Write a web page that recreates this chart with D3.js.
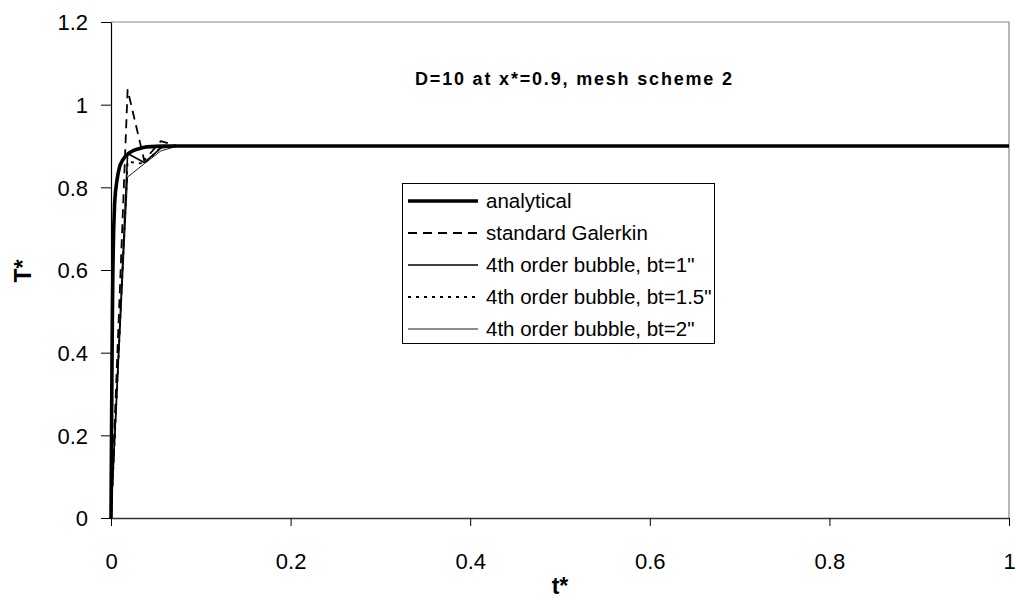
<!DOCTYPE html>
<html>
<head>
<meta charset="utf-8">
<script src="https://cdn.jsdelivr.net/npm/d3@7"></script>
<style>
  html, body { margin: 0; padding: 0; background: #fff; }
  svg { display: block; font-family: Arial, "Liberation Sans", sans-serif; }
</style>
</head>
<body>
<svg id="chart" width="1016" height="600"></svg>
<script>
// Temperature history T* at x* = 0.9 (D = 10, mesh scheme 2)
const tAnalytical = [0, 0.0004, 0.0008, 0.0012, 0.0016, 0.002, 0.0025, 0.003, 0.004, 0.005, 0.0065, 0.008, 0.01, 0.013, 0.016, 0.02, 0.025, 0.03, 0.035, 0.04, 0.05, 0.06, 0.08, 0.1, 1];
const TAnalytical = [0, 0.14, 0.28, 0.4, 0.5, 0.58, 0.65, 0.7, 0.76, 0.79, 0.815, 0.835, 0.853, 0.866, 0.875, 0.883, 0.889, 0.893, 0.896, 0.898, 0.899, 0.9, 0.9, 0.9, 0.9];

const tNumeric = [0, 0.0185, 0.037, 0.0555, 0.074, 1];
const TGalerkin = [0, 1.036, 0.865, 0.912, 0.9, 0.9];
const TBubble1 = [0, 0.882, 0.86, 0.895, 0.9, 0.9];
const TBubble15 = [0, 0.862, 0.857, 0.897, 0.9, 0.9];
const TBubble2 = [0, 0.825, 0.857, 0.888, 0.9, 0.9];

const xTicks = [0, 0.2, 0.4, 0.6, 0.8, 1];
const yTicks = [0, 0.2, 0.4, 0.6, 0.8, 1, 1.2];

const seriesNames = ["analytical", "standard Galerkin", "4th order bubble, bt=1\"", "4th order bubble, bt=1.5\"", "4th order bubble, bt=2\""];

const chartTitle = "D=10 at x*=0.9, mesh scheme 2";
const xTitle = "t*";
const yTitle = "T*";

// line styles per series
const styles = [
  { width: 3.6, dash: null, color: "#000" },
  { width: 1.8, dash: "9,6", color: "#000" },
  { width: 1.6, dash: null, color: "#000" },
  { width: 1.8, dash: "3,5", color: "#000" },
  { width: 0.9, dash: null, color: "#000" }
];

const svg = d3.select("#chart");
const plotLeft = 111, plotRight = 1009, plotTop = 22, plotBottom = 518;

const x = d3.scaleLinear().domain([0, 1]).range([plotLeft, plotRight]);
const y = d3.scaleLinear().domain([0, 1.2]).range([plotBottom, plotTop]);

// plot area frame (top and right sides)
svg.append("path")
  .attr("d", `M${plotLeft},${plotTop}H${plotRight}V${plotBottom}`)
  .attr("fill", "none").attr("stroke", "#888").attr("stroke-width", 1.2);

// axes
const xAxis = svg.append("g").attr("transform", `translate(0,${plotBottom})`)
  .call(d3.axisBottom(x).tickValues(xTicks).tickSize(8).tickSizeOuter(0).tickFormat(d3.format("")));
xAxis.select(".domain").attr("stroke", "#333").attr("stroke-width", 1.6);
xAxis.selectAll(".tick line").attr("stroke", "#000").attr("stroke-width", 1);
xAxis.selectAll(".tick text").attr("font-size", 22).attr("font-family", "Arial, 'Liberation Sans', sans-serif")
  .attr("fill", "#000").attr("dy", null).attr("y", 51);

const yAxis = svg.append("g").attr("transform", `translate(${plotLeft},0)`)
  .call(d3.axisLeft(y).tickValues(yTicks).tickSize(10).tickSizeOuter(0).tickFormat(d3.format("")));
yAxis.select(".domain").attr("stroke", "#000").attr("stroke-width", 1.2);
yAxis.selectAll(".tick line").attr("stroke", "#000").attr("stroke-width", 1);
yAxis.selectAll(".tick text").attr("font-size", 22).attr("font-family", "Arial, 'Liberation Sans', sans-serif")
  .attr("fill", "#000").attr("x", -23).attr("dy", "0.36em");

// series
const line = d3.line().x(d => x(d[0])).y(d => y(d[1]));
const series = [
  d3.zip(tAnalytical, TAnalytical),
  d3.zip(tNumeric, TGalerkin),
  d3.zip(tNumeric, TBubble1),
  d3.zip(tNumeric, TBubble15),
  d3.zip(tNumeric, TBubble2)
];
const drawOrder = [4, 3, 2, 1, 0];
drawOrder.forEach(i => {
  svg.append("path")
    .datum(series[i])
    .attr("d", line)
    .attr("fill", "none")
    .attr("stroke", styles[i].color)
    .attr("stroke-width", styles[i].width)
    .attr("stroke-dasharray", styles[i].dash)
    .attr("stroke-linejoin", "round");
});

// title inside plot
svg.append("text")
  .attr("x", 415).attr("y", 85)
  .attr("font-size", 18).attr("font-weight", "bold")
  .attr("textLength", 317).attr("lengthAdjust", "spacing")
  .text(chartTitle);

// axis titles
svg.append("text")
  .attr("x", (plotLeft + plotRight) / 2).attr("y", 594)
  .attr("text-anchor", "middle").attr("font-size", 23).attr("font-weight", "bold")
  .text(xTitle);
svg.append("text")
  .attr("transform", `translate(31,271) rotate(-90)`)
  .attr("text-anchor", "middle").attr("font-size", 23).attr("font-weight", "bold")
  .text(yTitle);

// legend
const legend = svg.append("g");
legend.append("rect")
  .attr("x", 402.5).attr("y", 183.5).attr("width", 312).attr("height", 160)
  .attr("fill", "#fff").attr("stroke", "#000").attr("stroke-width", 1);
seriesNames.forEach((name, i) => {
  const ly = 201 + i * 32;
  legend.append("line")
    .attr("x1", 408).attr("x2", 478).attr("y1", ly).attr("y2", ly)
    .attr("stroke", styles[i].color)
    .attr("stroke-width", styles[i].width)
    .attr("stroke-dasharray", styles[i].dash);
  legend.append("text")
    .attr("x", 486).attr("y", ly + 7)
    .attr("font-size", 20.5)
    .text(name);
});
</script>
</body>
</html>
